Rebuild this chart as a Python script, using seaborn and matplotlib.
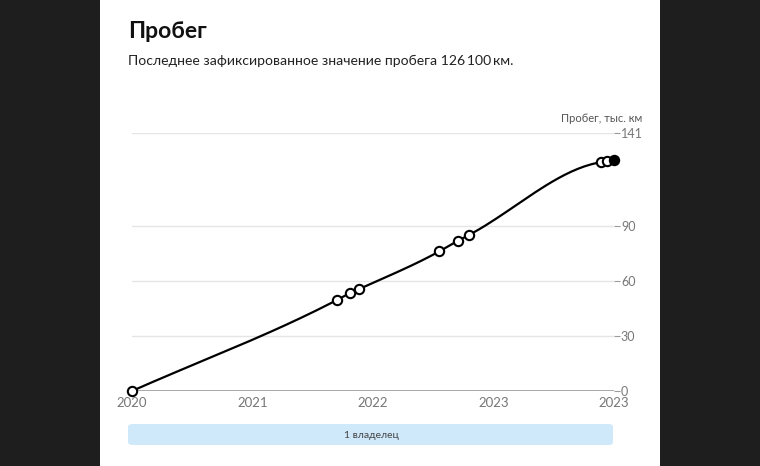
import numpy as np
import pandas as pd
import matplotlib
matplotlib.use("Agg")
import matplotlib.pyplot as plt
import seaborn as sns
from matplotlib.patches import FancyBboxPatch, Rectangle

# ---- data (x in years since start of 2020, mileage in thousand km) ----
years = [0.0, 1.70, 1.807, 1.881, 2.55, 2.705, 2.80, 3.89, 3.945, 4.0]
mileage = [0.0, 49.7, 53.4, 55.6, 76.3, 82.1, 85.4, 125.0, 125.5, 126.1]
x_tick_pos = [0, 1, 2, 3, 4]
x_tick_labels = ["2020", "2021", "2022", "2023", "2023"]
y_ticks = [0, 30, 60, 90, 141]
title = "Пробег"
subtitle = "Последнее зафиксированное значение пробега 126\u2009100\u2009км."
y_label = "Пробег, тыс. км"
owner_label = "1 владелец"


def monotone_curve(x, y, n=40):
    """Monotone cubic (Fritsch-Carlson) rendering of the line."""
    x = np.asarray(x, float)
    y = np.asarray(y, float)
    h = np.diff(x)
    s = np.diff(y) / h
    m = np.zeros_like(x)
    for i in range(1, len(x) - 1):
        s0, s1, h0, h1 = s[i - 1], s[i], h[i - 1], h[i]
        if s0 * s1 <= 0:
            m[i] = 0
        else:
            p = (s0 * h1 + s1 * h0) / (h0 + h1)
            m[i] = (np.sign(s0) + np.sign(s1)) * min(abs(s0), abs(s1), 0.5 * abs(p))
    m[0] = s[0]
    m[-1] = (3 * s[-1] - m[-2]) / 2
    xs, ys = [], []
    for i in range(len(x) - 1):
        t = np.linspace(0, 1, n, endpoint=(i == len(x) - 2))
        hh = h[i]
        h00 = 2 * t**3 - 3 * t**2 + 1
        h10 = t**3 - 2 * t**2 + t
        h01 = -2 * t**3 + 3 * t**2
        h11 = t**3 - t**2
        xs.append(x[i] + t * hh)
        ys.append(h00 * y[i] + h10 * hh * m[i] + h01 * y[i + 1] + h11 * hh * m[i + 1])
    return np.concatenate(xs), np.concatenate(ys)


sns.set_style("white")
plt.rcParams["font.family"] = ["Lato", "Noto Sans", "DejaVu Sans"]

W, H = 760, 466
fig = plt.figure(figsize=(W / 100, H / 100), dpi=100)
fig.patch.set_facecolor("#1e1e1e")
# white card
fig.add_artist(Rectangle((100 / W, 0), 560 / W, 1, transform=fig.transFigure,
                         facecolor="white", edgecolor="none", zorder=0))

ax = fig.add_axes([132 / W, 1 - 391 / H, (614 - 132) / W, (391 - 133) / H])
ax.set_facecolor("none")

cx, cy = monotone_curve(years, mileage)
curve = pd.DataFrame({"x": cx, "y": cy})
sns.lineplot(data=curve, x="x", y="y", ax=ax, color="black", lw=1.6,
             sort=False, estimator=None, zorder=3)

pts = pd.DataFrame({"x": years, "y": mileage})
sns.scatterplot(data=pts.iloc[:-1], x="x", y="y", ax=ax, s=45, color="white",
                edgecolor="black", linewidth=1.5, zorder=4, clip_on=False)
sns.scatterplot(data=pts.iloc[-1:], x="x", y="y", ax=ax, s=45, color="black",
                edgecolor="black", linewidth=1.5, zorder=5, clip_on=False)

ax.set_xlim(0, 4)
ax.set_ylim(0, 141)
for v in y_ticks[1:]:
    ax.axhline(v, color="#e5e5e5", lw=1, zorder=1)
ax.axhline(0, color="#9a9a9a", lw=1.2, zorder=2)

for sp in ax.spines.values():
    sp.set_visible(False)

ax.yaxis.tick_right()
ax.set_yticks(y_ticks)
ax.set_yticklabels([str(v) for v in y_ticks])
ax.tick_params(axis="y", length=4, width=0.8, color="#9a9a9a", labelcolor="#777777",
               labelsize=9, pad=1)
ax.set_xticks(x_tick_pos)
ax.set_xticklabels(x_tick_labels)
ax.tick_params(axis="x", length=3, width=0.8, color="#9a9a9a", labelcolor="#777777",
               labelsize=9.5, pad=3, direction="inout")
ax.set_xlabel("")
ax.set_ylabel("")

fig.text(642 / W, 1 - 118 / H, y_label, ha="right", va="center", fontsize=8,
         color="#555555")
fig.text(128 / W, 1 - 32 / H, title, ha="left", va="center", fontsize=16.5,
         fontweight="bold", color="#111111")
fig.text(128 / W, 1 - 61 / H, subtitle, ha="left", va="center", fontsize=10.1,
         color="#222222")

fig.add_artist(FancyBboxPatch((128 / W, 1 - 445 / H), (613 - 128) / W, 21 / H,
                              boxstyle="round,pad=0,rounding_size=0.006",
                              transform=fig.transFigure, facecolor="#cfe9fb",
                              edgecolor="none", zorder=1))
fig.text(371 / W, 1 - 435 / H, owner_label, ha="center", va="center", fontsize=7.5,
         color="#444444")

fig.savefig("out.png", dpi=100, facecolor=fig.get_facecolor())
